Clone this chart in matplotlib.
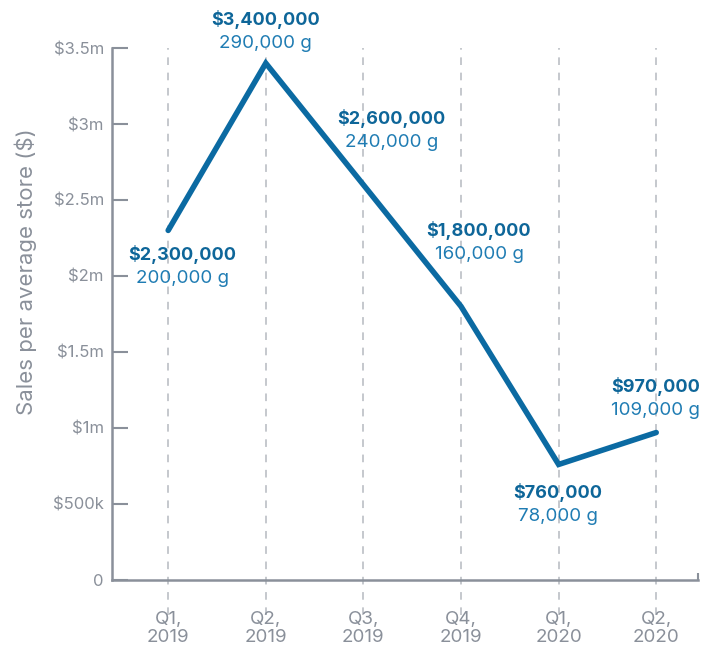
import matplotlib.pyplot as plt
from matplotlib.ticker import FuncFormatter

# data
quarters = ['Q1,\n2019', 'Q2,\n2019', 'Q3,\n2019', 'Q4,\n2019', 'Q1,\n2020', 'Q2,\n2020']
sales = [2300000, 3400000, 2600000, 1800000, 760000, 970000]
grams = [200000, 290000, 240000, 160000, 78000, 109000]
# label offsets (pixels) relative to each point
offsets = [(14, -24), (0, 44), (28, 66), (18, 76), (-1, -28), (-1, 46)]

plt.rcParams['font.family'] = ['Inter', 'DejaVu Sans']

line_col = '#0b6aa2'
bold_col = '#0e6699'
sub_col = '#1f7cb3'
gray = '#8a909a'

fig = plt.figure(figsize=(7.01, 6.47), dpi=100)
ax = fig.add_axes([0.16, 0.1036, 0.836, 0.8222])

x = list(range(len(quarters)))

# dashed guides through each quarter, running past the x axis
ax.vlines(x, -230000, 3500000, colors='#b5b9c0', linestyles=(0, (5, 5)),
          linewidth=1.1, clip_on=False, zorder=1)

ax.plot(x, sales, color=line_col, linewidth=4, solid_capstyle='round',
        solid_joinstyle='miter', zorder=3)

for xi, s, g, (dx, dy) in zip(x, sales, grams, offsets):
    ax.annotate(f'${s:,.0f}', (xi, s), xytext=(dx, dy), textcoords='offset pixels',
                ha='center', va='center', fontsize=13, fontweight='bold', color=bold_col)
    ax.annotate(f'{g:,.0f} g', (xi, s), xytext=(dx, dy - 24), textcoords='offset pixels',
                ha='center', va='center', fontsize=13.5, color=sub_col)

ax.set_xlim(-0.574, 5.43)
ax.set_ylim(0, 3500000)

def fmt(v, pos):
    if v == 0:
        return '0'
    if v < 1000000:
        return f'${v/1000:.0f}k'
    return f'${v/1000000:g}m'

ax.set_yticks([0, 500000, 1000000, 1500000, 2000000, 2500000, 3000000, 3500000])
ax.yaxis.set_major_formatter(FuncFormatter(fmt))
ax.set_xticks(x)
ax.set_xticklabels(quarters, linespacing=1.1)

ax.tick_params(axis='y', direction='in', length=11.5, width=1.5, color=gray,
               labelcolor=gray, labelsize=12, pad=6)
ax.tick_params(axis='x', length=0, labelcolor=gray, labelsize=13.5, pad=22)
ax.set_xticks([5.43], minor=True)
ax.tick_params(axis='x', which='minor', direction='in', length=5, width=1.5, color=gray)

for side in ['top', 'right']:
    ax.spines[side].set_visible(False)
for side in ['left', 'bottom']:
    ax.spines[side].set_color(gray)
    ax.spines[side].set_linewidth(1.8)

ax.set_ylabel('Sales per average store ($)', fontsize=16, color=gray)
ax.yaxis.set_label_coords(-0.128, 0.58)

fig.savefig('out.png', dpi=100)
